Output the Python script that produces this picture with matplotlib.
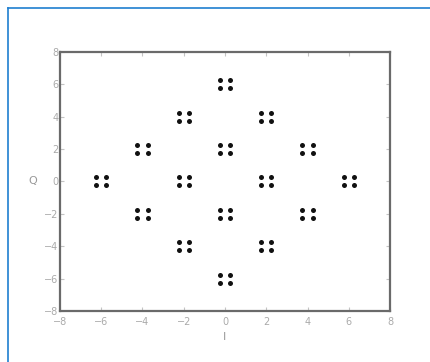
import matplotlib
matplotlib.use("Agg")
import matplotlib.pyplot as plt
from matplotlib.lines import Line2D

# cluster centres of the constellation (I, Q)
centre_i = [0, -2, 2, -4, 0, 4, -6, -2, 2, 6, -4, 0, 4, -2, 2, 0]
centre_q = [6, 4, 4, 2, 2, 2, 0, 0, 0, 0, -2, -2, -2, -4, -4, -6]
# each cluster has four points offset from its centre
off_i = [-0.25, 0.25, -0.25, 0.25]
off_q = [0.25, 0.25, -0.25, -0.25]

ticks = [-8, -6, -4, -2, 0, 2, 4, 6, 8]

pts_i = []
pts_q = []
for ci, cq in zip(centre_i, centre_q):
    for di, dq in zip(off_i, off_q):
        pts_i.append(ci + di)
        pts_q.append(cq + dq)

fig = plt.figure(figsize=(4.3, 3.62), dpi=100)
ax = fig.add_axes([0.1395, 0.141, 0.7675, 0.7155])

ax.plot(pts_i, pts_q, "o", color="#111111", markersize=3.6, markeredgewidth=0)

ax.set_xlim(-8, 8)
ax.set_ylim(-8, 8)
ax.set_xticks(ticks)
ax.set_yticks(ticks)
ax.tick_params(direction="in", length=3, width=0.8, color="#c4c4c4",
               labelcolor="#aaaaaa", labelsize=7, top=True, right=True)
ax.tick_params(axis="x", pad=4)
ax.tick_params(axis="y", pad=1)
for s in ax.spines.values():
    s.set_color("#6a6a6a")
    s.set_linewidth(1.6)

ax.set_xlabel("I", color="#999999", fontsize=8, labelpad=4)
ax.set_ylabel("Q", color="#999999", fontsize=8, labelpad=8, rotation=0,
              va="center")

# blue frame on the top and left edges
fig.add_artist(Line2D([8 / 430, 1.0], [1 - 8 / 362, 1 - 8 / 362],
                      transform=fig.transFigure, color="#1f7fd0", linewidth=1.2))
fig.add_artist(Line2D([8 / 430, 8 / 430], [0.0, 1 - 8 / 362],
                      transform=fig.transFigure, color="#1f7fd0", linewidth=1.2))

fig.savefig("out.png", dpi=100)
